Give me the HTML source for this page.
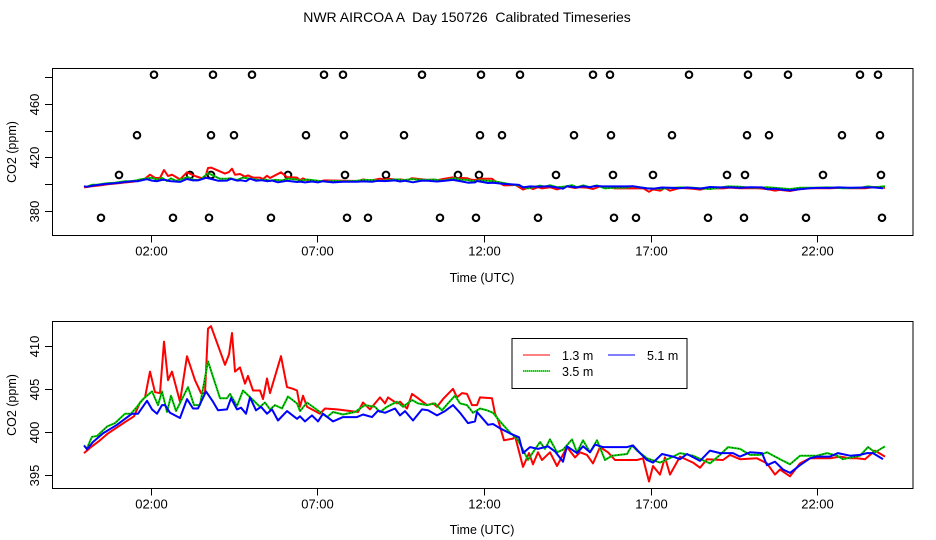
<!DOCTYPE html>
<html><head><meta charset="utf-8">
<style>
html,body{margin:0;padding:0;background:#fff;}
svg{display:block;font-family:"Liberation Sans",sans-serif;}
</style></head>
<body>
<svg id="chart" width="936" height="540" viewBox="0 0 936 540">
<text x="467" y="22" text-anchor="middle" font-size="14" style="white-space:pre">NWR AIRCOA A  Day 150726  Calibrated Timeseries</text>
<g id="top"></g>
<g id="bot"></g>
<g>
<rect x="512" y="338.5" width="175" height="50" fill="#fff" stroke="#000" stroke-width="1"/>
<g><line x1="523" y1="355" x2="550" y2="355" stroke="#f00" stroke-width="1"/><text x="562" y="360" font-size="12.5">1.3 m</text></g>
<g><line x1="608" y1="355" x2="635" y2="355" stroke="#00f" stroke-width="1"/><text x="647" y="360" font-size="12.5">5.1 m</text></g>
<g><line x1="523" y1="371" x2="550" y2="371" stroke="#0c0" stroke-width="1"/><line x1="523" y1="371" x2="550" y2="371" stroke="#000" stroke-width="1" stroke-dasharray="1,1"/><text x="562" y="376" font-size="12.5">3.5 m</text></g>
</g>
</svg>
<script>
const redT=[0,0.24,0.48,0.72,0.99,1.26,1.5,1.68,1.83,1.98,2.13,2.28,2.4,2.52,2.64,2.88,3.09,3.33,3.51,3.63,3.72,3.81,4.23,4.35,4.44,4.53,4.68,4.83,4.92,5.07,5.28,5.37,5.49,5.58,5.91,6.09,6.27,6.39,6.48,6.57,6.69,7.08,7.23,7.59,8.22,8.37,8.58,8.88,9.03,9.12,9.39,9.48,9.69,9.84,9.99,10.29,10.47,10.59,10.77,11.07,11.19,11.34,11.49,11.64,11.79,11.88,12.24,12.33,12.42,12.6,12.87,12.93,13.17,13.35,13.47,13.62,13.74,13.98,14.19,14.49,14.73,14.88,15.09,15.27,15.48,15.72,15.93,16.59,16.77,16.95,17.07,17.28,17.43,17.58,17.88,18.27,18.48,18.69,19.17,19.38,19.68,20.19,20.49,20.73,20.88,21.18,21.48,21.78,22.38,22.68,22.98,23.19,23.43,23.73,24.03];
const redV=[397.5,398.3,399.0,399.8,400.5,401.2,401.8,403.4,404,407,404.6,404.5,410.5,406,407,403.5,408.8,406,404.5,404.5,412,412.3,407.8,409,411.5,407,407.5,405.6,406.5,404.8,404.8,403.8,406.2,404.5,408.8,405.2,405,404.8,402.9,404.2,402.9,402.1,402.7,402.6,402.3,403.4,402.6,404,403.3,404,403.3,403.5,402.7,404.4,404,403.1,403.3,402.9,403.8,405,404,404.5,404.4,403.1,403.1,404,403.9,402.1,401.4,399.0,399.2,399.5,395.9,397.5,396.2,397.6,396.7,397.6,396.0,398.2,397,397.6,397.3,396.3,398.2,397.6,396.7,396.7,396.9,394.2,396,395,397,395,397.1,396.4,395.8,396.8,396.7,397.3,396.8,396.9,396.3,395,395.6,394.8,396.3,396.9,396.9,397.1,396.9,396.9,396.8,397.8,397.1];
const blueT=[0,0.09,0.27,0.57,0.99,1.44,1.62,1.89,2.04,2.19,2.34,2.43,2.58,2.88,3.09,3.27,3.42,3.66,3.87,4.02,4.29,4.41,4.59,4.71,4.86,4.98,5.16,5.31,5.49,5.64,5.82,6.09,6.39,6.48,6.63,6.84,7.02,7.17,7.47,7.77,8.19,8.37,8.64,8.82,9.03,9.33,9.48,9.63,9.87,10.14,10.32,10.59,10.83,11.07,11.28,11.52,11.73,11.79,12.12,12.27,12.48,12.78,13.05,13.17,13.38,13.62,13.92,14.13,14.37,14.49,14.79,14.97,15.18,15.33,15.57,16.29,16.47,16.68,16.89,17.07,17.34,17.67,17.88,18.09,18.48,18.78,19.08,19.47,19.68,19.98,20.34,20.49,20.73,20.97,21.18,21.48,21.78,21.99,22.38,22.62,22.98,23.28,23.49,23.67,23.88,23.97];
const blueV=[398.4,397.95,398.8,399.8,400.8,402.1,402.1,403.6,402.6,402.1,403.1,403.1,402.2,401.6,403.8,402.7,402.7,404.7,403.5,402.5,402.6,403.9,402.6,402.8,402.1,404,402.5,402.9,402.1,402.6,401.3,402.4,401.5,401.8,401.2,401.9,401.2,402.1,401.2,401.7,401.7,402.0,401.7,402.45,402.2,402.7,401.9,402.4,401.3,402.6,402.5,401.9,402.4,403.1,402.2,401.0,401.2,402.3,400.8,400.9,400.4,399.8,399.35,397.5,398.2,398.0,398.3,397.7,396.5,398.3,397.5,398.3,397.6,398.5,398.2,398.2,398.4,397.5,396.7,396.4,397.4,397.1,396.8,397.4,396.6,397.8,397.5,397.5,397.1,397.6,397.5,396.1,396.5,395.6,395.2,396.1,396.9,397.1,397.1,397.5,397.2,397.3,397.5,397.5,397.0,396.8];
const greenT=[0.09,0.24,0.39,0.69,0.93,1.23,1.41,1.59,1.77,2.04,2.22,2.34,2.49,2.61,2.76,3.12,3.3,3.48,3.72,4.08,4.29,4.38,4.59,4.77,5.07,5.28,5.43,5.58,5.73,5.94,6.12,6.39,6.48,6.69,7.08,7.29,7.47,7.77,8.13,8.43,8.73,8.88,9.09,9.39,9.57,9.84,10.02,10.29,10.53,10.74,10.92,11.13,11.28,11.49,11.67,11.88,12.09,12.27,12.48,12.78,12.99,13.17,13.32,13.47,13.68,13.83,13.98,14.19,14.37,14.64,14.79,14.97,15.18,15.39,15.63,15.84,16.29,16.44,16.59,16.89,17.28,17.67,17.88,18.27,18.78,19.08,19.32,19.68,19.98,20.28,20.49,20.88,21.18,21.48,21.99,22.29,22.59,22.77,23.28,23.52,23.73,24.03];
const greenV=[398.1,399.4,399.5,400.6,401,402.1,402.1,402.9,403.8,404.7,403.1,404.7,402.3,404.2,402.4,405.2,403.1,403.1,408.2,403.9,403.9,404.4,403,404.8,403.7,402.9,403.4,402.6,403.1,402.7,404.1,403.3,402.4,403.4,402.3,401.7,402.3,402.0,402.3,403.1,402.9,402.3,402.9,403.5,402.9,403.7,403.3,403.1,403.3,402.5,403.3,404.2,403.3,403.1,402.2,402.7,402.5,402.2,401.2,399.9,399.2,397.9,396.7,397.6,398.8,398,399.1,397.6,397.9,399.1,397.6,399,397.6,399,396.7,397.2,397.4,398.4,397.8,396.9,396.4,397.1,397.5,397.2,396.3,397.3,398.2,398,397.3,397.3,397.6,396.8,396.2,397.2,397.2,397.5,397.2,396.8,397.2,398.2,397.6,398.3];
const circleT=[2.1,3.87,5.04,7.2,7.77,10.14,11.91,13.08,15.27,15.78,18.15,19.92,21.12,23.28,23.82,1.59,3.81,4.5,6.66,7.8,9.6,11.88,12.54,14.7,15.81,17.64,19.89,20.55,22.74,23.88,1.05,3.18,3.81,6.12,7.83,9.06,11.22,11.85,14.16,15.87,17.07,19.29,19.83,22.17,23.91,0.51,2.67,3.75,5.61,7.89,8.52,10.68,11.76,13.62,15.9,16.56,18.72,19.8,21.66,23.94];
const circleV=[482,482,482,482,482,482,482,482,482,482,482,482,482,482,482,436.6,436.6,436.6,436.6,436.6,436.6,436.6,436.6,436.6,436.6,436.6,436.6,436.6,436.6,436.6,406.8,406.8,406.8,406.8,406.8,406.8,406.8,406.8,406.8,406.8,406.8,406.8,406.8,406.8,406.8,374.7,374.7,374.7,374.7,374.7,374.7,374.7,374.7,374.7,374.7,374.7,374.7,374.7,374.7,374.7];
const xTickHours=[2,7,12,17,22];
const xTickLabels=["02:00","07:00","12:00","17:00","22:00"];
const topYTicks=[380,400,420,440,460,480];
const topYLabels=["380","","420","","460",""];
const botYTicks=[395,400,405,410];
const botYLabels=["395","400","405","410"];

const NS="http://www.w3.org/2000/svg";
function mk(tag,attrs,parent){const e=document.createElementNS(NS,tag);for(const k in attrs)e.setAttribute(k,attrs[k]);parent.appendChild(e);return e;}
const xs=h=>84+h*33.333;
function panel(g,top,bottom,yOf,yt,yl,showCircles,xlabY){
  const box=mk('rect',{x:52.5,y:top,width:860.5,height:bottom-top,fill:'none',stroke:'#000','stroke-width':1},g);
  
  
  xTickHours.forEach((h,i)=>{
    const x=Math.round(xs(h))+0.5;
    const t=mk('line',{x1:x,x2:x,y1:bottom,y2:bottom+7,stroke:'#000'},g);
    
    
    const l=mk('text',{x:x,y:bottom+20,'text-anchor':'middle','font-size':13},g);
    l.textContent=xTickLabels[i];
    
    
  });
  yt.forEach((v,i)=>{
    const y=Math.round(yOf(v))+0.5;
    const t=mk('line',{x1:45,x2:52.5,y1:y,y2:y,stroke:'#000'},g);
    
    
    if(yl[i]){
      const l=mk('text',{x:0,y:0,'text-anchor':'middle','font-size':13,transform:`translate(39,${y}) rotate(-90)`},g);
      l.textContent=yl[i];
      
      
    }
  });
  const xt=mk('text',{x:482,y:xlabY,'text-anchor':'middle','font-size':12.5},g);
  xt.textContent='Time (UTC)';
  
  
  const ytl=mk('text',{x:0,y:0,'text-anchor':'middle','font-size':12.5,transform:`translate(16,${(top+bottom)/2}) rotate(-90)`},g);
  ytl.textContent='CO2 (ppm)';
  
  
  if(showCircles){
    circleT.forEach((h,i)=>{
      const c=mk('circle',{cx:xs(h),cy:yOf(circleV[i]),r:3.3,fill:'none',stroke:'#000','stroke-width':2},g);
      
      
    });
  }
  [[redT,redV,'#f00','series-1-3m',null],[greenT,greenV,'#0c0','series-3-5m','1,2'],[blueT,blueV,'#00f','series-5-1m',null]].forEach(s=>{
    const pts=s[0].map((h,i)=>xs(h).toFixed(1)+','+yOf(s[1][i]).toFixed(1)).join(' ');
    const p=mk('polyline',{points:pts,fill:'none',stroke:s[2],'stroke-width':2,'stroke-linejoin':'round'},g);
    
    
    if(s[4]){
      const d=mk('polyline',{points:pts,fill:'none',stroke:'#000','stroke-width':0.7,'stroke-dasharray':s[4]},g);
      
      
    }
  });
}
panel(document.getElementById('top'),68.5,235.5,v=>210.7-(v-380)*1.3333,topYTicks,topYLabels,true,282);
panel(document.getElementById('bot'),321.5,488.5,v=>431.7-(v-400)*8.58,botYTicks,botYLabels,false,534);
</script>
</body></html>
